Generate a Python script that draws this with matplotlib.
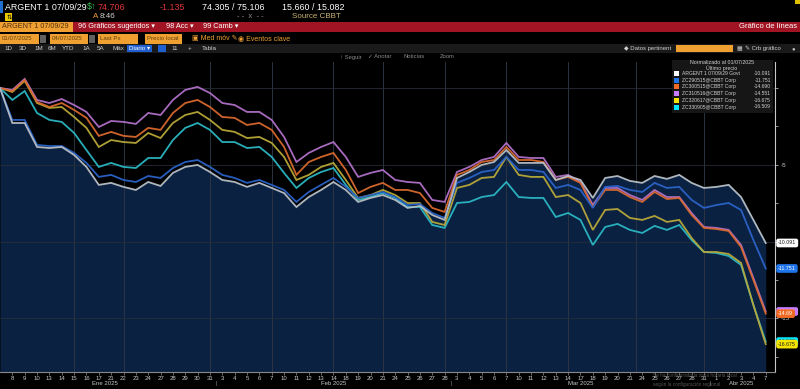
import numpy as np
import pandas as pd
import matplotlib
matplotlib.use("Agg")
import matplotlib.pyplot as plt
from matplotlib.patches import Rectangle
import matplotlib.transforms as mtransforms

plt.rcParams['font.family'] = ['Liberation Sans', 'DejaVu Sans']

# ---------------- data ----------------
holidays = ["2025-01-20", "2025-02-17"]
dates = pd.bdate_range("2025-01-07", "2025-04-07")
dates = dates[~dates.isin(pd.to_datetime(holidays))]

series_names = ["ARGENT 1 07/09/29 Govt", "ZC290515@CBBT Corp", "ZC300515@CBBT Corp",
                "ZC310516@CBBT Corp", "ZC320617@CBBT Corp", "ZC330905@CBBT Corp"]

govt = [0, -2.28, -2.28, -3.84, -3.91, -3.84, -4.36, -5.14, -6.31, -6.18, -6.44, -6.64, -6.12,
        -6.38, -5.53, -5.14, -5.01, -5.47, -5.99, -6.12, -6.44, -6.18, -6.51, -6.84, -7.75,
        -7.10, -6.64, -6.12, -6.64, -7.42, -7.16, -6.97, -7.29, -7.81, -7.68, -8.27, -8.59,
        -5.86, -5.47, -5.01, -4.82, -4.04, -4.88, -4.88, -4.88, -5.99, -5.73, -5.99, -7.16,
        -5.86, -5.73, -6.05, -6.18, -5.73, -5.92, -5.66, -6.18, -6.51, -6.44, -6.31, -7.10,
        -8.59, -10.091]
blue = [0, -2.08, -2.08, -3.71, -3.78, -3.78, -4.23, -4.88, -5.79, -5.66, -5.99, -6.12, -5.73,
        -5.86, -5.21, -4.82, -4.69, -5.14, -5.66, -5.86, -6.18, -5.99, -6.31, -6.64, -7.42,
        -6.77, -6.31, -5.86, -6.44, -7.16, -6.97, -6.77, -7.10, -7.62, -7.55, -8.14, -8.46,
        -6.18, -5.86, -5.47, -5.34, -4.49, -5.34, -5.34, -5.47, -6.51, -6.31, -6.64, -7.81,
        -6.44, -6.38, -6.64, -6.77, -6.18, -6.51, -6.44, -7.29, -7.81, -7.62, -7.49, -7.94,
        -9.90, -11.751]
orange = [0, -0.20, 0.52, -0.91, -1.24, -0.98, -1.43, -1.95, -3.12, -2.86, -3.12, -3.19, -2.60,
          -2.73, -1.63, -0.98, -0.78, -1.24, -1.89, -1.95, -2.41, -2.28, -2.73, -3.84, -5.66,
          -4.82, -4.49, -4.23, -5.34, -6.84, -6.44, -6.18, -6.64, -6.64, -6.84, -7.81, -8.07,
          -5.66, -5.34, -4.82, -4.69, -3.84, -4.69, -4.69, -4.82, -5.99, -5.79, -6.18, -7.75,
          -6.64, -6.64, -7.10, -7.42, -6.77, -7.23, -7.16, -8.27, -9.11, -9.18, -9.31, -10.35,
          -12.50, -14.69]
purple = [0, -0.13, 0.59, -0.78, -0.98, -0.72, -1.11, -1.56, -2.54, -2.15, -2.21, -2.34, -1.63,
          -1.76, -0.78, -0.13, 0.07, -0.33, -0.98, -1.11, -1.56, -1.56, -2.08, -3.19, -4.82,
          -4.23, -3.84, -3.52, -4.49, -5.79, -5.53, -5.34, -5.99, -6.12, -6.18, -7.29, -7.42,
          -5.47, -5.14, -4.69, -4.49, -3.58, -4.49, -4.56, -4.56, -5.79, -5.66, -6.12, -7.62,
          -6.51, -6.51, -6.97, -7.29, -6.64, -7.10, -7.10, -8.14, -9.05, -9.11, -9.24, -10.22,
          -12.37, -14.551]
yellow = [0, -0.26, 0.46, -0.98, -1.30, -1.24, -1.89, -2.60, -3.84, -3.39, -3.52, -3.58, -2.93,
          -3.26, -2.28, -1.76, -1.56, -2.08, -2.73, -2.86, -3.26, -3.19, -3.58, -4.49, -5.99,
          -5.66, -5.14, -4.88, -5.99, -7.16, -6.97, -6.64, -6.97, -7.49, -7.49, -8.72, -8.92,
          -6.51, -6.31, -5.86, -5.79, -4.49, -5.66, -5.79, -5.79, -7.10, -6.97, -7.49, -9.24,
          -7.94, -7.88, -8.46, -8.59, -8.33, -8.72, -8.59, -9.77, -10.68, -10.68, -10.81, -11.39,
          -14.13, -16.675]
cyan = [0, -0.78, -0.20, -1.63, -2.08, -2.21, -2.93, -4.04, -5.14, -4.88, -5.14, -5.21, -4.56,
        -4.56, -3.39, -2.60, -2.28, -2.73, -3.52, -3.52, -3.91, -3.84, -4.49, -5.53, -6.51,
        -5.86, -5.47, -5.21, -6.31, -7.29, -7.10, -6.84, -7.16, -7.75, -7.75, -8.92, -9.11,
        -7.49, -7.42, -7.10, -6.97, -6.12, -7.10, -7.16, -7.16, -8.40, -8.14, -8.59, -10.22,
        -9.05, -8.85, -9.24, -9.44, -8.98, -9.24, -8.92, -9.90, -10.68, -10.74, -10.94, -11.52,
        -14.13, -16.509]

y_ticks = [0, -5, -10, -15]
y_tick_labels = ['', '-5', '', '-15']
grid_days = [6, 10, 17, 22, 27, 31, 36, 41, 46, 51.5, 57]

# ---------------- figure ----------------
W, H = 800, 389
fig = plt.figure(figsize=(W / 100, H / 100), dpi=100, facecolor='black')


def px(x, y):
    return x / W, 1 - y / H


def T(x, y, s, color='white', size=6.5, ha='left', **kw):
    fx, fy = px(x, y)
    fig.text(fx, fy, s, color=color, fontsize=size, ha=ha, va='center', **kw)


def R(x0, y0, x1, y1, color, **kw):
    fig.patches.append(Rectangle((x0 / W, 1 - y1 / H), (x1 - x0) / W, (y1 - y0) / H,
                                 transform=fig.transFigure, color=color, lw=0, **kw))


# header row 1
R(0, 1, 3, 13, '#1f6fd0')
T(5, 7, 'ARGENT 1 07/09/29', size=6.4)
T(87, 7, '$↑', color='#3cc050', size=6.4)
T(97, 7, '74.706', color='#e03535', size=6.4)
T(160, 7, '-1.135', color='#e03535', size=6.4)
T(202, 7, '74.305 / 75.106', size=6.4)
T(282, 7, '15.660 / 15.082', size=6.4)
R(795, 0, 800, 4, '#e0c000')
# row 2
R(5, 13, 12, 21, '#e8c800')
T(6.2, 17, '⇅', color='black', size=4.5)
T(93, 17, 'A', color='#f0a030', size=5.8)
T(100, 17, '8:46', color='#d0d0d0', size=5.8)
T(237, 17, '- -  x  - -', color='#909090', size=5.5)
T(292, 17, 'Source CBBT', color='#c8b070', size=5.8)
# row 3 red bar
R(0, 22, 800, 32, '#a01424')
R(0, 22, 73, 32, '#f0a030')
T(2, 27, 'ARGENT 1 07/09/29', color='#503010', size=5.2)
T(78, 27, '96 Gráficos sugeridos ▾', color='white', size=5.3)
T(166, 27, '98 Acc ▾', color='white', size=5.3)
T(203, 27, '99 Camb ▾', color='white', size=5.3)
T(797, 27, 'Gráfico de líneas', color='white', size=5.5, ha='right')
# row 4
for (a, b, s) in [(0, 39, '01/07/2025'), (50, 88, '04/07/2025'), (98, 138, 'Last Px'),
                  (145, 182, 'Precio local')]:
    R(a, 34, b, 44, '#f0a030')
    T(a + 2, 39, s, color='#604010', size=4.4)
R(40, 35, 46, 43, '#606060')
R(89, 35, 95, 43, '#606060')
T(192, 39, '▣ Med móv ✎', color='#f0a030', size=5)
T(238, 39, '◉ Eventos clave', color='#f0a030', size=5)
# row 5
R(0, 44, 800, 53, '#1a1a1a')
for (xx, s) in [(4, '1D'), (19, '3D'), (34, '1M'), (48, '6M'), (62, 'YTD'), (82, '1A'),
                (97, '5A'), (112, 'Máx')]:
    T(xx, 48.5, s, color='#d0d0d0', size=4.5)
R(127, 45, 152, 52, '#1f5fd0')
T(129, 48.5, 'Diario ▾', color='white', size=4.5)
R(158, 45, 166, 52, '#1f5fd0')
T(171, 48.5, '11', color='#d0d0d0', size=4.5)
T(188, 48.5, '+', color='#d0d0d0', size=4.5)
T(202, 48.5, 'Tabla', color='#d0d0d0', size=4.5)
T(624, 48.5, '◆ Datos pertinent', color='#d0d0d0', size=4.3)
R(676, 45, 733, 52, '#f0a030')
T(736, 48.5, '▦', color='#c0c0c0', size=4.3)
T(745, 48.5, '✎ Crb gráfico', color='#d0d0d0', size=4.3)
T(792, 48.5, '●', color='#c0c0c0', size=4.3)
# row 6
for (xx, s) in [(340, '↑ Seguir'), (368, '✓ Anotar'), (403, 'Noticias'), (440, 'Zoom')]:
    T(xx, 57, s, color='#8a8a8a', size=4.2)

# ---------------- plot ----------------
ax_left, ax_right, ax_top, ax_bot = 0, 775, 62, 372
ax = fig.add_axes([ax_left / W, 1 - ax_bot / H, (ax_right - ax_left) / W, (ax_bot - ax_top) / H])
ax.set_facecolor('black')
x = np.arange(len(dates))
ymin, ymax = -18.49, 1.69

ax.fill_between(x, govt, ymin - 5, color='#0b2142', zorder=1, lw=0)
for gx in grid_days:
    ax.axvline(gx, color='#2b3442', lw=0.7, zorder=1.5)
for gy in y_ticks:
    ax.axhline(gy, color='#262c36', lw=0.6, zorder=1.5)

series = [govt, blue, orange, purple, yellow, cyan]
line_cols = ['#b8c0c8', '#2a63c8', '#d9692e', '#b070c8', '#b8a838', '#2bb7c4']
leg_cols = ['#ffffff', '#1e74e8', '#f06a25', '#c77dff', '#f5e400', '#00e5ff']
tag_text = ['#202020', 'white', 'white', 'white', '#202020', '#202020']
order = [5, 4, 1, 2, 3, 0]
for i in order:
    ax.plot(x, series[i], color=line_cols[i], lw=1.3, zorder=3 + (0.1 * (6 - i)),
            solid_joinstyle='miter', alpha=0.95)

ax.set_xlim(0, 62.75)
ax.set_ylim(ymin, ymax)

for sp in ['left', 'top']:
    ax.spines[sp].set_visible(False)
ax.spines['bottom'].set_color('#8a8a8a')
ax.spines['bottom'].set_linewidth(0.8)
ax.spines['right'].set_color('#c8c8c8')
ax.spines['right'].set_linewidth(0.8)

ax.set_xticks(x[1:])
ax.set_xticklabels([str(d.day) for d in dates[1:]], fontsize=4.3, color='#c8c8c8')
ax.tick_params(axis='x', length=2, width=0.5, color='#8a8a8a', pad=1)
ax.yaxis.tick_right()
ax.set_yticks(y_ticks)
ax.set_yticklabels(y_tick_labels, fontsize=4.5, color='#d0d0d0')
ax.set_yticks(np.arange(-17.5, 1, 2.5), minor=True)
ax.tick_params(axis='y', which='both', length=2, width=0.5, color='#d0d0d0', pad=2)

# month labels and separators
trans = mtransforms.blended_transform_factory(ax.transData, ax.transAxes)
month_names = {1: 'Ene', 2: 'Feb', 3: 'Mar', 4: 'Abr'}
months = pd.Series(x, index=dates).groupby(dates.month)
for m, grp in months:
    ax.text(grp.values.mean(), -0.038, f'{month_names[m]} 2025', transform=trans,
            fontsize=4.3, color='#c8c8c8', ha='center', va='center', clip_on=False)
    if grp.values.min() > 0:
        ax.text(grp.values.min() - 0.5, -0.036, '|', transform=trans, fontsize=4,
                color='#8a8a8a', ha='center', va='center', clip_on=False)
ax.text(0.843, -0.012, 'Se ha configurado la zona horaria local', transform=ax.transAxes,
        fontsize=3.4, color='#7a7a7a', ha='left', va='center', alpha=0.7, clip_on=False)
ax.text(0.843, -0.040, 'según la configuración regional', transform=ax.transAxes,
        fontsize=3.4, color='#7a7a7a', ha='left', va='center', alpha=0.7, clip_on=False)

# value tags on right
ytrans = mtransforms.blended_transform_factory(ax.transAxes, ax.transData)
for i in [3, 2, 0, 1, 5, 4]:
    val = series[i][-1]
    ax.text(1.004, val, f'{val:.3f}'.rstrip('0') if i == 2 else f'{val:.3f}',
            transform=ytrans, fontsize=3.8, color=tag_text[i], ha='left', va='center',
            clip_on=False, zorder=10,
            bbox=dict(boxstyle='round,pad=0.35,rounding_size=0.4', fc=leg_cols[i],
                      ec='none'))

# legend box
R(672, 60, 773, 113, '#161616', zorder=5)
T(722, 63, 'Normalizado al 01/07/2025', color='#d0d0d0', size=3.8, ha='center', zorder=6)
T(722, 68, 'Último precio', color='#d0d0d0', size=3.8, ha='center', zorder=6)
for k, (nm, col) in enumerate(zip(series_names, leg_cols)):
    yy = 73.5 + k * 6.7
    R(674, yy - 2.5, 679, yy + 2.5, col, zorder=6)
    T(682, yy, nm, color='#d0d0d0', size=3.6, zorder=6)
    T(771, yy, f'{series[k][-1]:.3f}', color='#d0d0d0', size=3.6, ha='right', zorder=6)

fig.savefig('out.png', dpi=100, facecolor='black')
